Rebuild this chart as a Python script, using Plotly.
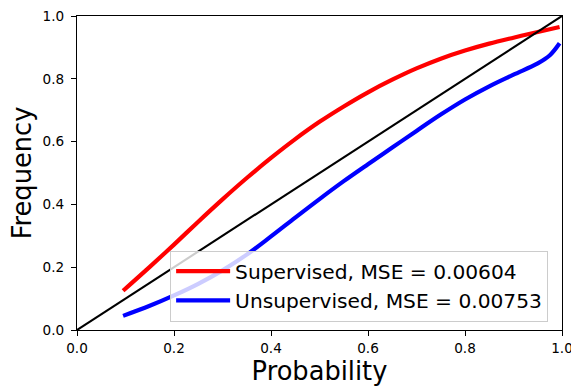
import plotly.graph_objects as go

# Reliability (calibration) curves: observed frequency vs predicted probability
prob_sup = [0.095, 0.15, 0.20, 0.25, 0.30, 0.35, 0.40, 0.45, 0.50, 0.55,
            0.60, 0.65, 0.70, 0.75, 0.80, 0.85, 0.90, 0.95, 0.995]
freq_sup = [0.125, 0.201, 0.272, 0.345, 0.416, 0.484, 0.548, 0.608, 0.663, 0.712,
            0.757, 0.797, 0.833, 0.864, 0.890, 0.912, 0.931, 0.949, 0.965]

prob_unsup = [0.095, 0.15, 0.20, 0.25, 0.30, 0.35, 0.40, 0.45, 0.50, 0.55,
              0.60, 0.65, 0.70, 0.75, 0.80, 0.85, 0.90, 0.95, 0.975, 0.995]
freq_unsup = [0.045, 0.077, 0.110, 0.147, 0.190, 0.240, 0.298, 0.358, 0.417, 0.474,
              0.528, 0.581, 0.634, 0.686, 0.734, 0.776, 0.813, 0.849, 0.875, 0.913]

diag = [0.0, 1.0]

mse_sup = 0.00604
mse_unsup = 0.00753

tick_vals = [0.0, 0.2, 0.4, 0.6, 0.8, 1.0]
tick_text = [f"{v:.1f}" for v in tick_vals]

FONT = "DejaVu Sans"

fig = go.Figure()
fig.add_trace(go.Scatter(
    x=prob_sup, y=freq_sup, mode="lines",
    line=dict(color="#ff0000", width=4.2, shape="spline", smoothing=1.0),
    name=f"Supervised, MSE = {mse_sup:.5f}",
))
fig.add_trace(go.Scatter(
    x=prob_unsup, y=freq_unsup, mode="lines",
    line=dict(color="#0000ff", width=4.2, shape="spline", smoothing=1.0),
    name=f"Unsupervised, MSE = {mse_unsup:.5f}",
))
fig.add_trace(go.Scatter(
    x=diag, y=diag, mode="lines",
    line=dict(color="#000000", width=2.1),
    showlegend=False,
))

axis_common = dict(
    range=[0, 1],
    tickvals=tick_vals,
    ticktext=tick_text,
    ticks="outside",
    ticklen=5,
    tickwidth=1,
    tickcolor="#000000",
    showline=True,
    linecolor="#000000",
    linewidth=1.2,
    mirror=True,
    showgrid=False,
    zeroline=False,
    automargin=False,
    ticklabeloverflow="allow",
    tickfont=dict(family=FONT, size=13.6, color="#000000"),
)

fig.update_layout(
    width=571,
    height=387,
    margin=dict(l=77, r=9, t=16, b=57),
    paper_bgcolor="white",
    plot_bgcolor="white",
    font=dict(family=FONT, color="#000000"),
    xaxis=dict(axis_common, ticklabelstandoff=1,
               title=dict(text="Probability",
                          font=dict(family=FONT, size=25.7),
                          standoff=3)),
    yaxis=dict(axis_common, ticklabelstandoff=4,
               title=dict(text="Frequency",
                          font=dict(family=FONT, size=25.7),
                          standoff=3)),
    legend=dict(
        x=0.192, y=0.027, xanchor="left", yanchor="bottom",
        bgcolor="rgba(255,255,255,0.8)",
        bordercolor="#cccccc", borderwidth=1,
        font=dict(family=FONT, size=20.2, color="#000000"),
        itemwidth=54,
    ),
    showlegend=True,
)

fig.write_html("out.html")
